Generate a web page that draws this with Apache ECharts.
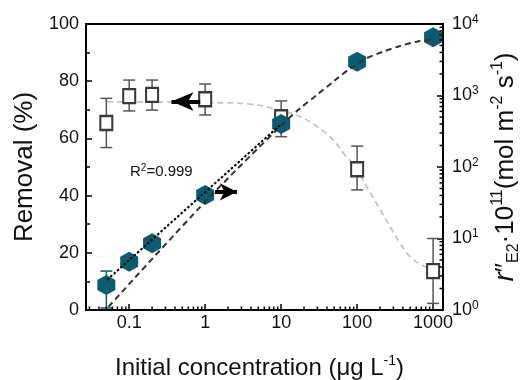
<!DOCTYPE html>
<html><head><meta charset="utf-8">
<script src="https://cdn.jsdelivr.net/npm/echarts@6/dist/echarts.min.js"></script>
<style>html,body{margin:0;padding:0;background:#fff}#c{width:522px;height:380px}</style>
</head><body><div id="c"></div>
<script>
// ---- data ----
const conc = [0.05, 0.1, 0.2, 1, 10, 100, 1000];
const removal = [65.4, 74.8, 75.2, 73.7, 67.4, 49.2, 13.6];
const removalLow = [56.8, 69.6, 69.9, 68.2, 60.6, 42.0, 2.3];
const removalHigh = [74.0, 80.4, 80.4, 79.0, 73.1, 57.3, 25.0];
const rate = [2.24, 4.74, 8.6, 40.6, 400, 2960, 6510];
const rateErrConc = [0.05];
const rateLow = [1.07];
const rateHigh = [3.5];
const removalFitX = [0.0514, 0.256, 1.29, 3.91, 10.7, 17.8, 29.5, 48.8, 66, 94.1, 134, 191, 272, 368, 498, 710, 1010];
const removalFitY = [72.8, 72.7, 72.5, 72.0, 69.5, 67.6, 64.2, 59.4, 54.8, 50.1, 43.1, 36.1, 29.1, 23.3, 18.6, 15.7, 14.0];
const rateFitX = [0.0534, 1.05, 10.2, 17.8, 29.4, 48.6, 81, 133, 220, 366, 609, 1010];
const rateFitY = [1.11, 34.5, 387, 662, 1016, 1560, 2400, 3310, 4100, 4930, 5650, 6110];
const linFitX = [0.051, 9.7];
const linFitY = [2.63, 387];
const xMin = 0.027, xMax = 1350;
const xTickValues = [0.1, 1, 10, 100, 1000];
const xTickLabels = ['0.1', '1', '10', '100', '1000'];
const xMinorTicks = [0.03,0.04,0.05,0.06,0.07,0.08,0.09, 0.2,0.3,0.4,0.5,0.6,0.7,0.8,0.9, 2,3,4,5,6,7,8,9, 20,30,40,50,60,70,80,90, 200,300,400,500,600,700,800,900];
const yLeftTicks = [0, 20, 40, 60, 80, 100];
const yRightMin = 1, yRightMax = 10000;
const yRightTickValues = [1, 10, 100, 1000, 10000];
const yRightTickExp = ['0', '1', '2', '3', '4'];
const yRightMinorTicks = [2,3,4,5,6,7,8,9, 20,30,40,50,60,70,80,90, 200,300,400,500,600,700,800,900, 2000,3000,4000,5000,6000,7000,8000,9000];
const arrowLeft = [[0.86, 72.9], [0.36, 72.9]];
const arrowRight = [[1.35, 45], [2.62, 45]];

const FONT = '"Liberation Sans", Arial, sans-serif';
const TEAL = '#0b5c70';
const hexPath = 'path://M0,-1 L0.866,-0.5 L0.866,0.5 L0,1 L-0.866,0.5 L-0.866,-0.5 Z';

function matchIdx(arr, v) {
  for (let i = 0; i < arr.length; i++) if (Math.abs(arr[i] - v) / arr[i] < 1e-6) return i;
  return -1;
}

function errBarRender(color, cap) {
  return function (params, api) {
    const x = api.value(0), lo = api.value(1), hi = api.value(2);
    const pl = api.coord([x, lo]), ph = api.coord([x, hi]);
    const st = {stroke: color, lineWidth: 1.5};
    return {type: 'group', children: [
      {type: 'line', shape: {x1: pl[0], y1: pl[1], x2: ph[0], y2: ph[1]}, style: st},
      {type: 'line', shape: {x1: ph[0] - cap, y1: ph[1], x2: ph[0] + cap, y2: ph[1]}, style: st},
      {type: 'line', shape: {x1: pl[0] - cap, y1: pl[1], x2: pl[0] + cap, y2: pl[1]}, style: st}
    ]};
  };
}

const chart = echarts.init(document.getElementById('c'), null, {renderer: 'canvas'});
const option = {
  animation: false,
  backgroundColor: '#fff',
  grid: {left: 86, right: 79, top: 24, bottom: 70, show: true, borderColor: '#000', borderWidth: 2,
         backgroundColor: 'transparent', containLabel: false, outerBoundsMode: 'none'},
  textStyle: {fontFamily: FONT},
  xAxis: {
    type: 'log', logBase: 10, min: xMin, max: xMax,
    axisLine: {show: true, lineStyle: {color: '#000', width: 2}},
    axisTick: {show: true, inside: true, length: 6, lineStyle: {color: '#000', width: 1.5}},
    axisLabel: {fontSize: 18, color: '#111', fontFamily: FONT, margin: 4,
      showMinLabel: false, showMaxLabel: false,
      formatter: function (v) { const i = matchIdx(xTickValues, v); return i >= 0 ? xTickLabels[i] : ''; }},
    splitLine: {show: false},
    name: '{a|Initial concentration (μg L}{sup|-1}{a|)}',
    nameLocation: 'middle', nameGap: 44,
    nameTextStyle: {fontFamily: FONT, color: '#111', padding: [0, 10, 0, 0],
      rich: {a: {fontSize: 24, fontFamily: FONT, color: '#111', lineHeight: 28},
             sup: {fontSize: 14, fontFamily: FONT, color: '#111', lineHeight: 14, verticalAlign: 'top'}}}
  },
  yAxis: [{
    type: 'value', min: 0, max: 100, interval: 20, position: 'left',
    axisLine: {show: true, lineStyle: {color: '#000', width: 2}},
    axisTick: {show: true, inside: true, length: 6, lineStyle: {color: '#000', width: 1.5}},
    minorTick: {show: true, splitNumber: 2, length: 4, lineStyle: {color: '#000', width: 1.5}},
    axisLabel: {fontSize: 18, color: '#111', fontFamily: FONT, margin: 7},
    splitLine: {show: false},
    name: 'Removal (%)', nameLocation: 'middle', nameRotate: 90, nameGap: 44,
    nameTextStyle: {fontSize: 26, color: '#111', fontFamily: FONT}
  }, {
    type: 'log', logBase: 10, min: yRightMin, max: yRightMax, position: 'right',
    axisLine: {show: true, lineStyle: {color: '#000', width: 2}},
    axisTick: {show: true, inside: true, length: 6, lineStyle: {color: '#000', width: 1.5}},
    axisLabel: {color: '#111', margin: 9,
      formatter: function (v) { const i = matchIdx(yRightTickValues, v); return i >= 0 ? '{b|10}{sup|' + yRightTickExp[i] + '}' : ''; },
      rich: {b: {fontSize: 18, fontFamily: FONT, color: '#111', lineHeight: 21},
             sup: {fontSize: 12, fontFamily: FONT, color: '#111', lineHeight: 12, verticalAlign: 'top'}}},
    splitLine: {show: false},
    name: '{it|r}{a|″}{sub|E2}{a|·10}{sup|11}{a|(mol m}{sup|-2}{a| s}{sup|-1}{a|)}',
    nameLocation: 'middle', nameRotate: 90, nameGap: 38,
    nameTextStyle: {fontFamily: FONT, color: '#111',
      rich: {a: {fontSize: 26, fontFamily: FONT, color: '#111', lineHeight: 32},
             it: {fontSize: 28, fontFamily: FONT, fontStyle: 'italic', color: '#111', lineHeight: 32},
             sub: {fontSize: 16, fontFamily: FONT, color: '#111', lineHeight: 16, verticalAlign: 'bottom'},
             sup: {fontSize: 16, fontFamily: FONT, color: '#111', lineHeight: 16, verticalAlign: 'top'}}}
  }],
  graphic: [{
    type: 'text', left: 130, top: 163, z: 10,
    style: {text: '{a|R}{sup|2}{a|=0.999}', rich: {
      a: {fontSize: 15, fontFamily: FONT, fill: '#111', lineHeight: 18},
      sup: {fontSize: 10, fontFamily: FONT, fill: '#111', lineHeight: 10, verticalAlign: 'top'}}}
  }],
  series: [
    {
      name: 'removalFit', type: 'line', xAxisIndex: 0, yAxisIndex: 0, z: 1,
      data: removalFitX.map((x, i) => [x, removalFitY[i]]),
      smooth: 0.4, symbol: 'none', silent: true,
      lineStyle: {color: '#c4c4c4', width: 1.8, type: [6, 4]}
    },
    {
      name: 'removalErr', type: 'custom', xAxisIndex: 0, yAxisIndex: 0, z: 2, silent: true,
      data: conc.map((x, i) => [x, removalLow[i], removalHigh[i]]),
      renderItem: errBarRender('#555', 6)
    },
    {
      name: 'removal', type: 'scatter', xAxisIndex: 0, yAxisIndex: 0, z: 3, silent: true,
      data: conc.map((x, i) => [x, removal[i]]),
      symbol: 'rect', symbolSize: [12, 14],
      itemStyle: {color: '#fff', borderColor: '#3a3a3a', borderWidth: 2.2, opacity: 1},
      markLine: {
        silent: true, animation: false, symbol: ['none', 'arrow'], symbolSize: [14, 22],
        label: {show: false},
        lineStyle: {color: '#000', width: 4, type: 'solid'},
        itemStyle: {color: '#000', borderWidth: 0},
        emphasis: {disabled: true},
        data: [[{coord: arrowLeft[0]}, {coord: arrowLeft[1]}]]
      }
    },
    {
      name: 'rateErr', type: 'custom', xAxisIndex: 0, yAxisIndex: 1, z: 2, silent: true,
      data: rateErrConc.map((x, i) => [x, rateLow[i], rateHigh[i]]),
      renderItem: errBarRender(TEAL, 6)
    },
    {
      name: 'rate', type: 'scatter', xAxisIndex: 0, yAxisIndex: 1, z: 4, silent: true,
      data: conc.map((x, i) => [x, rate[i]]),
      symbol: hexPath, symbolSize: [18, 20], symbolKeepAspect: false,
      itemStyle: {color: TEAL, opacity: 1},
      markLine: {
        silent: true, animation: false, symbol: ['none', 'arrow'], symbolSize: [13, 17],
        label: {show: false},
        lineStyle: {color: '#000', width: 4, type: 'solid'},
        itemStyle: {color: '#000', borderWidth: 0},
        emphasis: {disabled: true},
        data: [[{coord: arrowRight[0]}, {coord: arrowRight[1]}]]
      }
    },
    {
      name: 'rateFit', type: 'line', xAxisIndex: 0, yAxisIndex: 1, z: 5, silent: true,
      data: rateFitX.map((x, i) => [x, rateFitY[i]]),
      smooth: 0.3, symbol: 'none',
      lineStyle: {color: '#333', width: 2, type: [6, 4]}
    },
    {
      name: 'linFit', type: 'line', xAxisIndex: 0, yAxisIndex: 1, z: 5, silent: true,
      data: linFitX.map((x, i) => [x, linFitY[i]]),
      symbol: 'none',
      lineStyle: {color: '#000', width: 2, type: [2.5, 2]}
    },
    {
      name: 'xMinor', type: 'custom', xAxisIndex: 0, yAxisIndex: 0, z: 6, silent: true,
      data: xMinorTicks.map(v => [v, 0]),
      renderItem: function (params, api) {
        const p = api.coord([api.value(0), 0]);
        return {type: 'line', shape: {x1: p[0], y1: p[1], x2: p[0], y2: p[1] - 3.5}, style: {stroke: '#000', lineWidth: 1.5}};
      }
    },
    {
      name: 'yMinor', type: 'custom', xAxisIndex: 0, yAxisIndex: 1, z: 6, silent: true,
      data: yRightMinorTicks.map(v => [xMax, v]),
      renderItem: function (params, api) {
        const p = api.coord([api.value(0), api.value(1)]);
        return {type: 'line', shape: {x1: p[0], y1: p[1], x2: p[0] - 3.5, y2: p[1]}, style: {stroke: '#000', lineWidth: 1.5}};
      }
    }
  ]
};
chart.setOption(option);
</script>
</body></html>
